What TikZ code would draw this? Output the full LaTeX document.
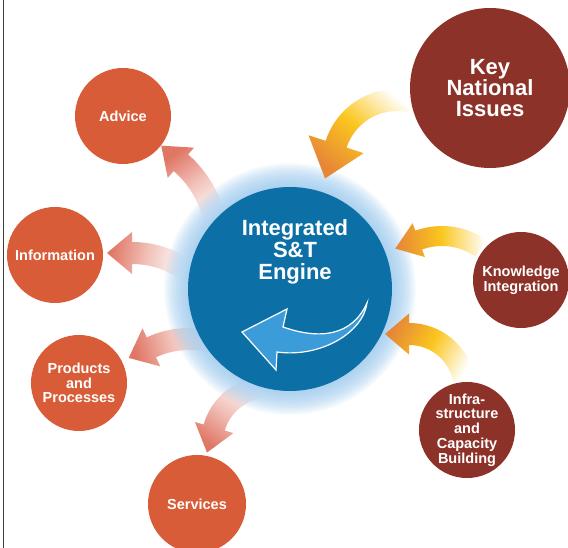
\documentclass[tikz,border=0pt]{standalone}
\usepackage{fontspec}
\setmainfont{Liberation Sans}
\usetikzlibrary{calc}
\definecolor{engblue}{RGB}{12,112,166}
\definecolor{outc}{RGB}{217,92,56}
\definecolor{inc}{RGB}{140,50,40}
\definecolor{glowc}{RGB}{150,200,240}
\definecolor{arrblue}{RGB}{60,156,218}
\definecolor{outarr}{RGB}{224,118,100}
\definecolor{yel}{RGB}{250,198,30}
\definecolor{org}{RGB}{230,135,55}
\definecolor{framec}{RGB}{60,60,60}
% #1 arc centre, #2 radius, #3 start angle, #4 end angle, #5 band width, #6 head width, #7 head length, #8 style
\newcommand\bentarrow[8]{%
  \path[#8] ($#1+(#3:#2+#5/2)$) arc[start angle=#3, end angle=#4, radius=#2+#5/2]
    -- ($#1+(#4:#2+#6/2)$) -- ($#1+(#4:#2)+(#4+90:#7)$)
    -- ($#1+(#4:#2-#6/2)$) -- ($#1+(#4:#2-#5/2)$)
    arc[start angle=#4, end angle=#3, radius=#2-#5/2] -- cycle;}
\tikzset{
  inarrow/.style={bottom color=white, top color=org, middle color=yel, shading angle=#1},
  outarrow/.style={bottom color=white, top color=outarr, middle color=outarr!45, shading angle=#1},
  smallfont/.style={font=\fontsize{14.5}{14.8}\selectfont\bfseries},
  outnode/.style={circle, fill=outc, minimum size=96, inner sep=0pt, text=white, align=center, smallfont},
  innode/.style={circle, fill=inc, minimum size=96, inner sep=0pt, text=white, align=center, smallfont},
  bignode/.style={circle, fill=inc, minimum size=160, inner sep=0pt, text=white, align=center, font=\fontsize{22}{21}\selectfont\bfseries},
  engnode/.style={circle, fill=engblue, minimum size=204, inner sep=0pt},
  engtext/.style={text=white, align=center, inner sep=0pt, font=\fontsize{22}{22}\selectfont\bfseries},
}
\begin{document}
\begin{tikzpicture}[x=1pt, y=1pt]
\useasboundingbox (0,0) rectangle (568,548);
\clip (0,0) rectangle (568,548);
\fill[white] (0,0) rectangle (568,548);
\coordinate (engc) at (290,259);
% output arrows
\bentarrow{(112,306)}{105}{12}{49}{22}{40}{26}{outarrow=36}
\bentarrow{(132,200)}{95}{58}{90}{22}{42}{25}{outarrow=80}
\bentarrow{(189,120)}{89}{75}{115}{22}{42}{25}{outarrow=107}
\bentarrow{(268,105)}{56}{95}{164}{22}{40}{26}{outarrow=144}
% glow
\foreach \k in {1,...,14} \fill[glowc, opacity=0.09] (engc) circle (102+1.7*\k);
% input arrows
\bentarrow{(397,384)}{64}{78}{162}{22}{58}{36}{inarrow=139}
\bentarrow{(442,244)}{68}{55}{110}{20}{36}{25}{inarrow=93}
\bentarrow{(409,158)}{56}{10}{90}{22}{41}{24}{inarrow=63}
% engine
\node[engnode] (eng) at (engc) {};
\draw[white, line width=1.2, fill=arrblue, line join=miter]
  (242,216) -- (287,239) -- (283,221) .. controls (320,208) and (352,212) .. (367,245)
  .. controls (363,215) and (320,190) .. (277,196) -- (276,178) -- cycle;
\node[engtext] (engt) at (295,296) {Integrated\\S\&T\\Engine};
% inputs
\node[bignode] (kni) at (490,460) {Key\\National\\Issues};
\node[innode] (ki) at (521,268) {Knowledge\\Integration};
\node[innode] (infra) at (467,118) {Infra-\\structure\\and\\Capacity\\Building};
% outputs
\node[outnode] (adv) at (123,432) {Advice};
\node[outnode] (info) at (55,293) {Information};
\node[outnode] (prod) at (79,165) {Products\\and\\Processes};
\node[outnode, minimum size=98] (serv) at (197,44) {Services};
% frame line
\draw[framec, line width=1.5] (3.5,0) -- (3.5,548);
\end{tikzpicture}
\end{document}
